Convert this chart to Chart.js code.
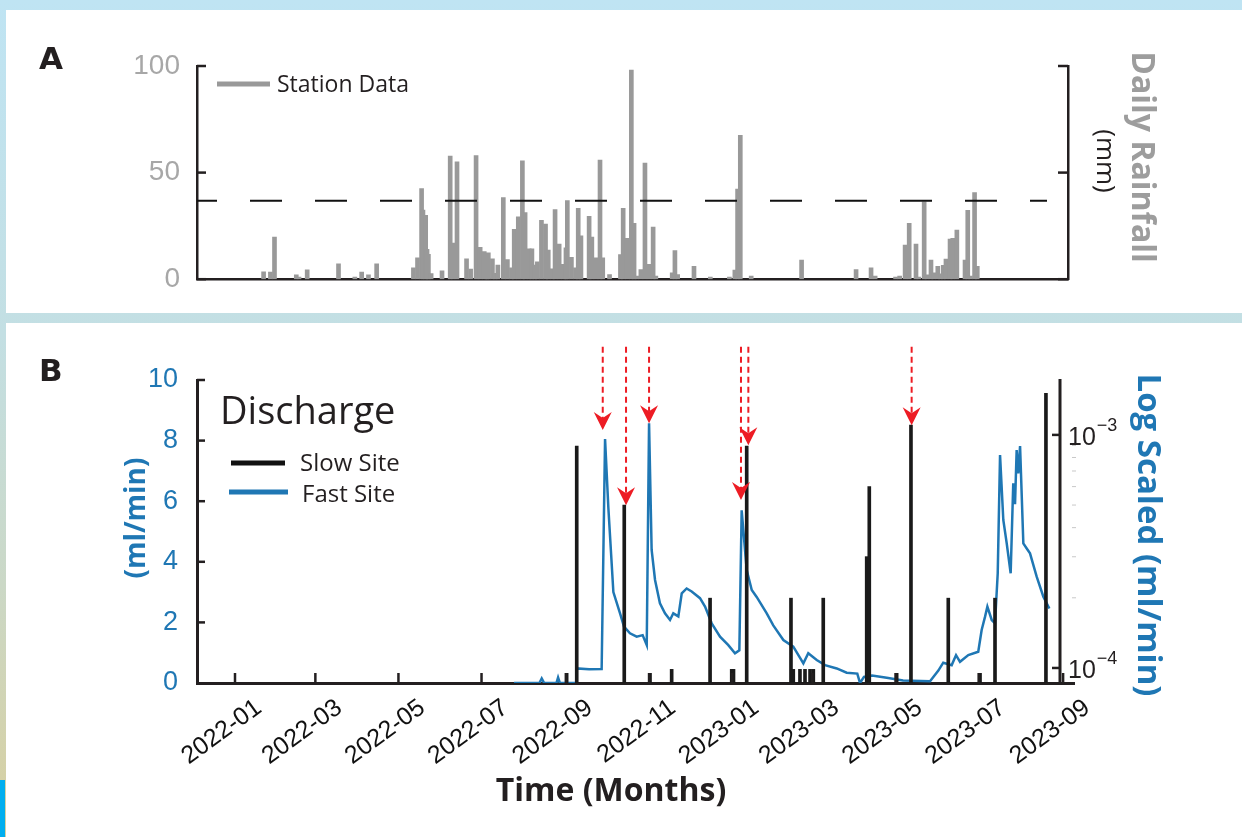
<!DOCTYPE html>
<html>
<head>
<meta charset="utf-8">
<script src="https://cdn.jsdelivr.net/npm/chart.js@4.4.0/dist/chart.umd.min.js"></script>
<style>
html, body { margin: 0; padding: 0; }
body {
  width: 1242px; height: 837px; position: relative; overflow: hidden;
  background: linear-gradient(180deg, #bfe4f3 0%, #c3dfe3 40%, #cbd8c6 70%, #d8cf9e 100%);
}
.panel { position: absolute; background: #fff; }
#pa { left: 6px; top: 10px; width: 1236px; height: 303px; }
#pb { left: 6px; top: 323px; width: 1236px; height: 514px; }
.edge { position: absolute; left: 0; top: 780px; width: 5px; height: 57px; background: #00aeef; }
canvas { position: absolute; left: 0; }
#ca { top: 0; }
#cb { top: 323px; }
</style>
</head>
<body>
<div class="panel" id="pa"></div>
<div class="panel" id="pb"></div>
<div class="edge"></div>
<canvas id="ca" width="1242" height="313"></canvas>
<canvas id="cb" width="1242" height="514"></canvas>
<script>
// Axe du temps : jours depuis le 2022-01-01
var monthLabels = ['2022-01', '2022-03', '2022-05', '2022-07', '2022-09', '2022-11',
                   '2023-01', '2023-03', '2023-05', '2023-07', '2023-09'];
var xMin = -27.9, xMaxA = 611.6, xMaxB = 616;

// A : pluie journaliere (mm)
var rainDays = [21, 26, 29, 45, 47, 53, 76, 88, 93, 98, 104,
  131, 134, 137, 138, 140, 141, 142, 144,
  152, 158, 160, 163, 170, 173, 177, 180, 183, 185, 186, 189, 191, 193,
  197, 200, 203, 205, 208, 211, 213, 216, 218, 220, 222, 225, 228, 230, 233, 235, 238, 241, 243, 244,
  247, 250, 252, 254, 260, 262, 265, 268, 270, 275, 283, 285, 288, 291, 293, 295, 298, 301, 304, 307,
  309, 321, 323, 325, 337, 349, 363, 367, 369, 371,
  379, 416, 456, 467, 470, 485, 488, 492, 495, 500, 502, 506, 508, 511, 513, 516, 518, 520, 522,
  525, 527, 530, 536, 538, 540, 543, 545];
var rainMm = [3.5, 3.3, 19.7, 2, 1, 4.4, 7.2, 1, 3.3, 2, 7.2,
  5.3, 10, 42.5, 32.4, 30, 14, 11.7, 2.6,
  3.9, 57.8, 17, 55, 9.5, 4.8, 58, 15, 13, 8.4, 12.4, 9.5, 2.8, 6.6,
  38.3, 9.2, 5.3, 23.4, 29.3, 55.5, 31.3, 14.2, 14.2, 6.6, 8.2, 27.6, 25.9, 13.7, 4.9, 32.7, 16.5, 7, 14.7, 36.9,
  10.3, 5.3, 33.2, 20.3, 29.5, 19.7, 10, 55.9, 10, 2.2, 11.5, 33.2, 19.2, 98.1, 26.2, 1.5, 4.5, 54.5, 7, 24.4,
  1.5, 3, 13.4, 2.2, 6, 1, 1, 4.3, 42.3, 67.5,
  1.5, 9, 4.5, 5.3, 1.5, 1, 1.5, 16, 26.2, 16.5, 1, 36.3, 2, 9, 3, 6, 2.5, 6.5, 9.4,
  18.8, 19.2, 23, 9, 32.3, 1.5, 40.6, 6];
var rainThreshold = 36.8;
var thresholdEnd = 596.2;

// B : debit (ml/min)
var fastDays = [204.8, 223.5, 225.2, 227, 236, 237.2, 238.5, 250.4, 250.9, 260, 269.2, 271.7, 274.1, 277.8,
  282.7, 285.6, 290.0, 294.9, 299.3, 302.3, 304.0, 305.9, 308.4, 312.0, 315.7, 319.4, 321.8, 325.5,
  328.0, 331.6, 335.3, 341.4, 345.1, 350.0, 356.1, 362.2, 367.1, 370.3, 372.0, 375.7, 379.4, 383.0,
  390.4, 395.2, 402.6, 409.9, 417.3, 420.9, 427.1, 433.2, 441.8, 449.1, 456.9, 458.9, 461.8, 467.7,
  478.5, 490.5, 510.3, 516.4, 520.0, 526.2, 529.4, 532.3, 538.4, 545.7, 548.2, 550.7, 552.4, 555.6,
  558.0, 560.0, 561.7, 564.1, 566.6, 569.5, 571.4, 572.7, 573.9, 575.1, 576.4, 578.8, 581.3, 583.7,
  588.6, 593.5, 597.9];
var fastFlow = [0, 0, 0.15, 0, 0, 0.18, 0, 0, 0.48, 0.45, 0.46, 8.05, 5.8, 3.0,
  2.3, 1.86, 1.64, 1.53, 1.58, 1.25, 8.57, 4.39, 3.4, 2.63, 2.3, 2.08, 2.3, 2.2,
  2.96, 3.12, 3.02, 2.8, 2.52, 1.97, 1.53, 1.25, 0.98, 1.08, 5.7, 3.73, 3.07, 2.84,
  2.3, 1.9, 1.42, 1.2, 0.65, 0.98, 0.76, 0.59, 0.48, 0.34, 0.31, 0, 0.2, 0.25,
  0.17, 0.08, 0.06, 0.41, 0.67, 0.59, 0.92, 0.7, 0.92, 1.03, 1.75, 2.19, 2.52, 2.08,
  1.97, 3.62, 7.52, 5.38, 4.61, 3.62, 6.59, 5.9, 7.69, 6.92, 7.82, 4.61, 4.44, 4.28,
  3.51, 2.85, 2.46];
var slowDays = [243.5, 250.9, 285.8, 304.7, 320.6, 348.8, 364.7, 366, 375.7, 408.2, 409.9, 414.8,
  418.5, 422.2, 424.6, 431.9, 463.8, 465.7, 485.8, 496.3, 523.7, 547.0, 558.0, 595.4];
var slowFlow = [0.32, 7.82, 5.87, 0.32, 0.45, 2.8, 0.45, 0.45, 7.82, 2.8, 0.45, 0.45,
  0.45, 0.45, 0.45, 2.8, 4.17, 6.48, 0.32, 8.51, 2.8, 0.32, 2.8, 9.56];

// fleches rouges : position, pointe, depart
var arrowDays = [270.0, 287.1, 304.0, 371.5, 376.9, 496.8];
var arrowTips = [8.35, 5.87, 8.57, 6.04, 7.85, 8.51];
var arrowTop = 11.1;

// axe log de droite
var logMin = 8.62e-5, logMax = 1.72e-3;
var logMajor = [1e-3, 1e-4];
var logMajorExp = ['\u22123', '\u22124'];
var logMinor = [2e-4, 3e-4, 4e-4, 5e-4, 6e-4, 7e-4, 8e-4, 9e-4];

var BLUE = '#1f77b4', INK = '#231f20';

function dayOf(s) {
  return (Date.UTC(+s.slice(0, 4), +s.slice(5, 7) - 1, 1) - Date.UTC(2022, 0, 1)) / 86400000;
}
var monthTicks = monthLabels.map(dayOf);

function seg(ctx, x1, y1, x2, y2) {
  ctx.beginPath(); ctx.moveTo(x1, y1); ctx.lineTo(x2, y2); ctx.stroke();
}
function rotText(ctx, str, x, y, ang, font, color) {
  ctx.save();
  ctx.translate(x, y); ctx.rotate(ang);
  ctx.font = font; ctx.fillStyle = color;
  ctx.textAlign = 'center'; ctx.textBaseline = 'middle';
  ctx.fillText(str, 0, 0);
  ctx.restore();
}

// Decorations du panneau A
var decoA = {
  id: 'decoA',
  afterDraw: function (chart) {
    var ctx = chart.ctx, y = chart.scales.y, ca = chart.chartArea;
    ctx.save();
    ctx.strokeStyle = INK; ctx.lineWidth = 2.5;
    [0, 50, 100].forEach(function (v) {
      var py = y.getPixelForValue(v);
      seg(ctx, ca.left, py, ca.left + 9, py);
      seg(ctx, ca.right - 10, py, ca.right, py);
    });
    // legende
    ctx.strokeStyle = '#999999'; ctx.lineWidth = 5;
    seg(ctx, 217, 84, 270, 84);
    ctx.fillStyle = INK; ctx.font = '23px "Open Sans"';
    ctx.textAlign = 'left'; ctx.textBaseline = 'alphabetic';
    ctx.fillText('Station Data', 277, 92);
    ctx.font = 'bold 31px "DejaVu Sans"';
    ctx.fillText('A', 39, 69);
    rotText(ctx, 'Daily Rainfall', 1141, 157, Math.PI / 2, 'bold 32px "Open Sans"', '#9d9d9d');
    rotText(ctx, '(mm)', 1104, 161, Math.PI / 2, '26px "Open Sans"', INK);
    ctx.restore();
  }
};

// Decorations du panneau B
var decoB = {
  id: 'decoB',
  afterDraw: function (chart) {
    var ctx = chart.ctx, x = chart.scales.x, y = chart.scales.y, y2 = chart.scales.y2, ca = chart.chartArea;
    ctx.save();
    ctx.strokeStyle = INK; ctx.lineWidth = 2.5;
    [2, 4, 6, 8, 10].forEach(function (v) {
      var py = y.getPixelForValue(v);
      seg(ctx, ca.left, py, ca.left + 8, py);
    });
    monthTicks.forEach(function (d) {
      var px = x.getPixelForValue(d);
      seg(ctx, px, ca.bottom, px, ca.bottom - 10);
    });
    // axe log a droite
    var axX = 1060;
    ctx.lineWidth = 3;
    seg(ctx, axX, y2.top - 1, axX, y2.bottom);
    ctx.lineWidth = 2.5;
    logMajor.forEach(function (v, i) {
      var py = y2.getPixelForValue(v);
      seg(ctx, axX - 8, py, axX, py);
      ctx.fillStyle = INK; ctx.textAlign = 'left'; ctx.textBaseline = 'middle';
      ctx.font = '25px "Liberation Sans"';
      ctx.fillText('10', axX + 8, py + 3);
      var w = ctx.measureText('10').width;
      ctx.font = '18px "Liberation Sans"';
      ctx.fillText(logMajorExp[i], axX + 9 + w, py - 9);
    });
    ctx.strokeStyle = '#c8c8c8'; ctx.lineWidth = 1;
    logMinor.forEach(function (v) {
      var py = y2.getPixelForValue(v);
      seg(ctx, axX + 12, py, axX + 16, py);
    });
    // fleches rouges
    ctx.strokeStyle = '#ed1c24'; ctx.fillStyle = '#ed1c24'; ctx.lineWidth = 2;
    arrowDays.forEach(function (d, i) {
      var px = x.getPixelForValue(d);
      var tip = y.getPixelForValue(arrowTips[i]);
      var top = y.getPixelForValue(arrowTop);
      ctx.setLineDash([6, 4]);
      seg(ctx, px, top, px, tip - 12);
      ctx.setLineDash([]);
      ctx.beginPath();
      ctx.moveTo(px, tip);
      ctx.lineTo(px - 9, tip - 18);
      ctx.lineTo(px, tip - 12);
      ctx.lineTo(px + 9, tip - 18);
      ctx.closePath(); ctx.fill();
    });
    // legende
    ctx.fillStyle = INK; ctx.textAlign = 'left'; ctx.textBaseline = 'alphabetic';
    ctx.font = '38px "Open Sans"';
    ctx.fillText('Discharge', 220, 101);
    ctx.lineWidth = 5;
    ctx.strokeStyle = '#111111'; seg(ctx, 231, 140, 285, 140);
    ctx.strokeStyle = BLUE; seg(ctx, 229, 169, 288, 169);
    ctx.font = '24px "Open Sans"';
    ctx.fillText('Slow Site', 300, 148);
    ctx.fillText('Fast Site', 302, 179);
    ctx.font = 'bold 31px "DejaVu Sans"';
    ctx.fillText('B', 39, 58);
    rotText(ctx, '(ml/min)', 137, 195, -Math.PI / 2, 'bold 28px "Open Sans"', BLUE);
    rotText(ctx, 'Log Scaled (ml/min)', 1147, 212, Math.PI / 2, 'bold 33px "Open Sans"', BLUE);
    ctx.fillStyle = INK; ctx.textAlign = 'center';
    ctx.font = 'bold 32px "Open Sans"';
    ctx.fillText('Time (Months)', 611, 478);
    ctx.restore();
  }
};

function buildCharts() {
  // Panneau A : pluie
  new Chart(document.getElementById('ca'), {
    type: 'bar',
    data: {
      datasets: [{
        type: 'line',
        data: [{ x: xMin, y: rainThreshold }, { x: thresholdEnd, y: rainThreshold }],
        borderColor: '#111111', borderWidth: 2, borderDash: [32, 33], borderDashOffset: 12,
        pointRadius: 0, order: 0
      }, {
        data: rainDays.map(function (d, i) { return { x: d, y: rainMm[i] }; }),
        backgroundColor: '#999999', barThickness: 4, order: 1
      }]
    },
    options: {
      responsive: false, animation: false,
      layout: { padding: { top: 66, right: 174, bottom: 0, left: 0 } },
      plugins: { legend: { display: false }, tooltip: { enabled: false } },
      scales: {
        x: {
          type: 'linear', min: xMin, max: xMaxA, offset: false,
          grid: { display: false, drawTicks: false }, ticks: { display: false },
          border: { color: INK, width: 2.5 },
          afterFit: function (s) { s.height = 31; }
        },
        y: {
          min: 0, max: 100,
          ticks: { stepSize: 50, color: '#a7a7a7', font: { family: 'Liberation Sans', size: 28 }, padding: 17 },
          grid: { display: false, drawTicks: false },
          border: { color: INK, width: 2.5 },
          afterFit: function (s) { s.width = 197; }
        },
        y2: {
          position: 'right', min: 0, max: 100,
          ticks: { display: false }, grid: { display: false, drawTicks: false },
          border: { color: INK, width: 2.5 },
          afterFit: function (s) { s.width = 0; }
        }
      }
    },
    plugins: [decoA]
  });

  // Panneau B : debit
  new Chart(document.getElementById('cb'), {
    type: 'bar',
    data: {
      datasets: [{
        label: 'Slow Site',
        data: slowDays.map(function (d, i) { return { x: d, y: slowFlow[i] }; }),
        backgroundColor: '#1a1a1a', barThickness: 3, order: 0
      }, {
        type: 'line', label: 'Fast Site',
        data: fastDays.map(function (d, i) { return { x: d, y: fastFlow[i] }; }),
        borderColor: BLUE, borderWidth: 2.5, pointRadius: 0, tension: 0, order: 1
      }]
    },
    options: {
      responsive: false, animation: false,
      layout: { padding: { top: 57, right: 168, bottom: 0, left: 0 } },
      plugins: { legend: { display: false }, tooltip: { enabled: false } },
      scales: {
        x: {
          type: 'linear', min: xMin, max: xMaxB, offset: false,
          grid: { display: false, drawTicks: false },
          border: { color: INK, width: 3 },
          afterBuildTicks: function (s) { s.ticks = monthTicks.map(function (v) { return { value: v }; }); },
          ticks: {
            autoSkip: false, minRotation: 36, maxRotation: 36, padding: 10, labelOffset: 24,
            color: '#111111', font: { family: 'Liberation Sans', size: 25 },
            callback: function (v, i) { return monthLabels[i]; }
          },
          afterFit: function (s) { s.height = 154; }
        },
        y: {
          min: 0, max: 10,
          ticks: { stepSize: 2, color: BLUE, font: { family: 'Liberation Sans', size: 27 }, padding: 19 },
          grid: { display: false, drawTicks: false },
          border: { color: INK, width: 3 },
          afterFit: function (s) { s.width = 197; }
        },
        y2: {
          type: 'logarithmic', position: 'right', min: logMin, max: logMax, display: false
        }
      }
    },
    plugins: [decoB]
  });
}

Promise.all([
  document.fonts.load('23px "Open Sans"'),
  document.fonts.load('bold 32px "Open Sans"'),
  document.fonts.load('25px "Liberation Sans"'),
  document.fonts.load('bold 31px "DejaVu Sans"')
]).then(buildCharts, buildCharts);
</script>
</body>
</html>
